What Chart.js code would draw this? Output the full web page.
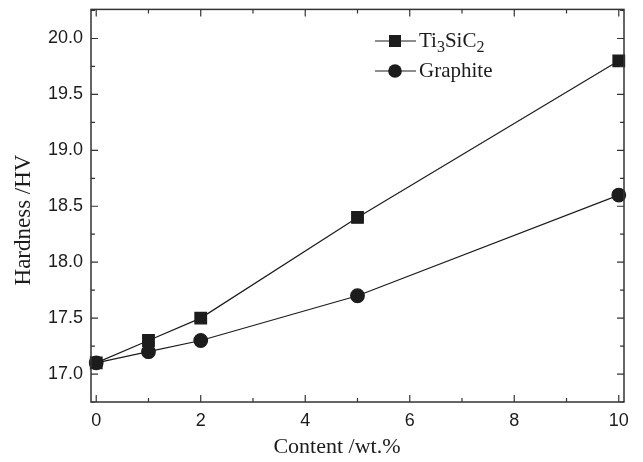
<!DOCTYPE html>
<html>
<head>
<meta charset="utf-8">
<script src="https://cdn.jsdelivr.net/npm/chart.js@4/dist/chart.umd.min.js"></script>
<style>
  html, body { margin: 0; padding: 0; background: #fff; }
  #wrap { width: 643px; height: 462px; }
</style>
</head>
<body>
<div id="wrap"><canvas id="hardnessChart" width="643" height="462"></canvas></div>
<script>
// Werte
var contents = [0, 1, 2, 5, 10];
var ti3sic2Hardness = [17.1, 17.3, 17.5, 18.4, 19.8];
var graphiteHardness = [17.1, 17.2, 17.3, 17.7, 18.6];
var xTickValues = [0, 2, 4, 6, 8, 10];
var xMinorValues = [1, 3, 5, 7, 9];
var yTickValues = [17.0, 17.5, 18.0, 18.5, 19.0, 19.5, 20.0];
var yMinorValues = [16.75, 17.25, 17.75, 18.25, 18.75, 19.25, 19.75, 20.25];

var ink = '#1c1c1c';

function toPoints(xs, ys) {
  return xs.map(function (x, i) { return { x: x, y: ys[i] }; });
}

// Rahmen, Ticks nach innen, Legende und Achsentitel
var framePlugin = {
  id: 'frame',
  afterDraw: function (chart) {
    var c = chart.ctx;
    var a = chart.chartArea;
    var xs = chart.scales.x;
    var ys = chart.scales.y;
    c.save();
    c.strokeStyle = '#333';
    c.lineWidth = 1.5;
    c.strokeRect(a.left, a.top, a.right - a.left, a.bottom - a.top);

    c.lineWidth = 1.2;
    function xTick(v, len) {
      var px = xs.getPixelForValue(v);
      c.beginPath();
      c.moveTo(px, a.bottom); c.lineTo(px, a.bottom - len);
      c.moveTo(px, a.top); c.lineTo(px, a.top + len);
      c.stroke();
    }
    function yTick(v, len) {
      var py = ys.getPixelForValue(v);
      c.beginPath();
      c.moveTo(a.left, py); c.lineTo(a.left + len, py);
      c.moveTo(a.right, py); c.lineTo(a.right - len, py);
      c.stroke();
    }
    xTickValues.forEach(function (v) { xTick(v, 7); });
    xMinorValues.forEach(function (v) { xTick(v, 4); });
    yTickValues.forEach(function (v) { yTick(v, 7); });
    yMinorValues.forEach(function (v) { yTick(v, 4); });

    // Legende
    var lx = 375, ly = 41, gap = 30;
    chart.data.datasets.forEach(function (ds, i) {
      var y = ly + i * gap;
      c.strokeStyle = ink;
      c.lineWidth = 1.2;
      c.beginPath();
      c.moveTo(lx, y); c.lineTo(lx + 41, y);
      c.stroke();
      c.fillStyle = ink;
      if (ds.pointStyle === 'rect') {
        c.fillRect(lx + 20 - 6, y - 6, 12, 12);
      } else {
        c.beginPath();
        c.arc(lx + 20, y, 6.8, 0, Math.PI * 2);
        c.fill();
      }
      c.textBaseline = 'middle';
      c.textAlign = 'left';
      c.font = '21px "Liberation Serif"';
      if (i === 0) {
        var tx = lx + 44;
        c.fillText('Ti', tx, y);
        tx += c.measureText('Ti').width;
        c.font = '16px "Liberation Serif"';
        c.fillText('3', tx, y + 7);
        tx += c.measureText('3').width;
        c.font = '21px "Liberation Serif"';
        c.fillText('SiC', tx, y);
        tx += c.measureText('SiC').width;
        c.font = '16px "Liberation Serif"';
        c.fillText('2', tx, y + 7);
      } else {
        c.fillText(ds.label, lx + 44, y);
      }
    });

    // Achsentitel
    c.fillStyle = ink;
    c.font = '22px "Liberation Serif"';
    c.textAlign = 'center';
    c.textBaseline = 'middle';
    c.fillText('Content /wt.%', 337, 447);
    c.translate(24, 220);
    c.rotate(-Math.PI / 2);
    c.font = '23px "Liberation Serif"';
    c.fillText('Hardness /HV', 0, 0);
    c.restore();
  }
};

var ctx = document.getElementById('hardnessChart');
window.hardnessChart = new Chart(ctx.getContext('2d'), {
  type: 'scatter',
  data: {
    datasets: [
      {
        label: 'Ti3SiC2',
        data: toPoints(contents, ti3sic2Hardness),
        showLine: true,
        borderColor: ink,
        backgroundColor: ink,
        borderWidth: 1.2,
        pointStyle: 'rect',
        pointRadius: 8.2,
        pointHoverRadius: 8.2,
        clip: false
      },
      {
        label: 'Graphite',
        data: toPoints(contents, graphiteHardness),
        showLine: true,
        borderColor: ink,
        backgroundColor: ink,
        borderWidth: 1.2,
        pointStyle: 'circle',
        pointRadius: 6.8,
        pointHoverRadius: 6.8,
        clip: false
      }
    ]
  },
  plugins: [framePlugin],
  options: {
    responsive: false,
    animation: false,
    events: [],
    layout: { padding: { top: 2, right: 19, left: 0, bottom: 0 } },
    plugins: {
      legend: { display: false },
      tooltip: { enabled: false }
    },
    scales: {
      x: {
        type: 'linear',
        min: -0.1,
        max: 10.1,
        afterBuildTicks: function (s) {
          s.ticks = xTickValues.map(function (v) { return { value: v }; });
        },
        afterFit: function (s) {
          s.height = 60;
          s.paddingLeft = 0;
          s.paddingRight = 0;
        },
        grid: { display: false, drawTicks: false },
        border: { display: false },
        ticks: {
          padding: 8,
          color: ink,
          font: { family: '"Liberation Sans"', size: 18 },
          callback: function (v) { return String(v); }
        }
      },
      y: {
        type: 'linear',
        min: 16.75,
        max: 20.26,
        afterBuildTicks: function (s) {
          s.ticks = yTickValues.map(function (v) { return { value: v }; });
        },
        afterFit: function (s) {
          s.width = 91;
          s.paddingTop = 0;
          s.paddingBottom = 0;
        },
        grid: { display: false, drawTicks: false },
        border: { display: false },
        ticks: {
          padding: 8,
          color: ink,
          font: { family: '"Liberation Sans"', size: 18 },
          callback: function (v) { return Number(v).toFixed(1); }
        }
      }
    }
  }
});
</script>
</body>
</html>
